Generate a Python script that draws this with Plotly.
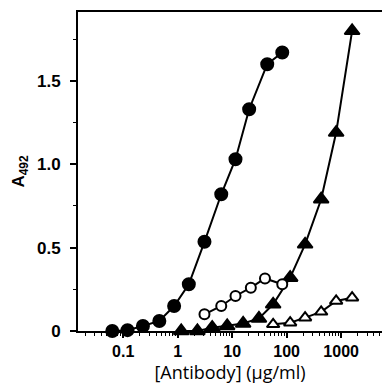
import plotly.graph_objects as go

# Antibody concentrations (µg/ml)
conc_circle = [0.063, 0.12, 0.23, 0.46, 0.86, 1.6, 3.1, 6.3, 11.5, 20.5, 44, 83]
a492_filled_circle = [0.0, 0.005, 0.03, 0.06, 0.15, 0.28, 0.535, 0.82, 1.03, 1.33, 1.60, 1.67]

conc_open_circle = [3.1, 6.3, 11.5, 22, 40, 83]
a492_open_circle = [0.10, 0.15, 0.21, 0.26, 0.315, 0.28]

conc_triangle = [1.16, 2.3, 4.3, 8.1, 15.9, 31, 56.5, 116, 218, 430, 810, 1590]
a492_filled_triangle = [0.0, 0.0, 0.02, 0.03, 0.045, 0.075, 0.16, 0.32, 0.52, 0.79, 1.19, 1.80]

conc_open_triangle = [56.5, 116, 218, 430, 810, 1590]
a492_open_triangle = [0.04, 0.05, 0.08, 0.115, 0.18, 0.20]

x_major = [0.1, 1, 10, 100, 1000]
x_major_text = ["0.1", "1", "10", "100", "1000"]
x_minor = [m * 10 ** e for e in range(-2, 4) for m in range(2, 10)]
y_major = [0, 0.5, 1.0, 1.5]
y_major_text = ["0", "0.5", "1.0", "1.5"]

fig = go.Figure()

def add(x, y, symbol, filled, size):
    fig.add_trace(go.Scatter(
        x=x, y=y, mode="lines+markers",
        line=dict(color="black", width=2),
        marker=dict(symbol=symbol, size=size,
                    color="black" if filled else "white",
                    line=dict(color="black", width=2)),
        cliponaxis=False, showlegend=False))

add(conc_open_triangle, a492_open_triangle, "triangle-up", False, 11)
add(conc_triangle, a492_filled_triangle, "triangle-up", True, 13)
add(conc_open_circle, a492_open_circle, "circle", False, 10)
add(conc_circle, a492_filled_circle, "circle", True, 12)

fig.update_layout(
    width=382, height=386,
    margin=dict(l=78, r=0, t=12, b=55),
    plot_bgcolor="white", paper_bgcolor="white",
    xaxis=dict(
        type="log", range=[-1.83, 3.75],
        tickmode="array", tickvals=x_major, ticktext=x_major_text,
        ticks="outside", ticklen=5, tickwidth=1.5, tickcolor="black",
        minor=dict(tickmode="array", tickvals=x_minor, ticks="outside",
                   ticklen=3, tickwidth=1, tickcolor="black", showgrid=False),
        showline=True, linecolor="black", linewidth=2, mirror=True,
        showgrid=False, zeroline=False,
        tickfont=dict(family="Liberation Sans, Arial", size=16, color="black", weight="bold"),
        title=dict(text="[Antibody] (\u03bcg/ml)",
                   font=dict(family="Open Sans", size=18, color="black"),
                   standoff=7),
    ),
    yaxis=dict(
        range=[0, 1.913],
        tickmode="array", tickvals=y_major, ticktext=y_major_text,
        ticks="outside", ticklen=6, tickwidth=1.5, tickcolor="black",
        minor=dict(tickmode="array", tickvals=[0.25, 0.75, 1.25, 1.75],
                   ticks="outside", ticklen=3, tickwidth=1, tickcolor="black",
                   showgrid=False),
        showline=True, linecolor="black", linewidth=2,
        showgrid=False, zeroline=False,
        ticklabelstandoff=6,
        tickfont=dict(family="Liberation Sans, Arial", size=17, color="black", weight="bold"),
        title=dict(text="<b>A<sub>492</sub></b>",
                   font=dict(family="Liberation Sans, Arial", size=17, color="black"),
                   standoff=8),
    ),
)

fig.write_html("out.html")
